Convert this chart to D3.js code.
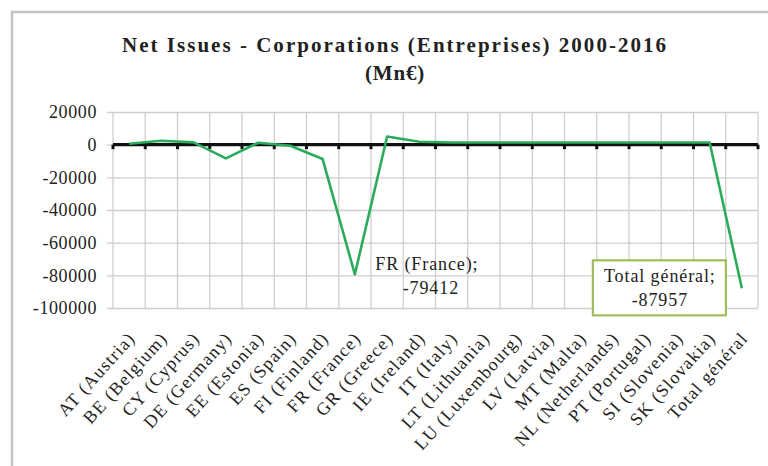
<!DOCTYPE html>
<html>
<head>
<meta charset="utf-8">
<script src="https://cdn.jsdelivr.net/npm/d3@7"></script>
<style>
  html, body { margin: 0; padding: 0; background: #fff; }
  svg { display: block; }
  text { font-family: "Liberation Serif", "Times New Roman", serif; fill: #222; }
</style>
</head>
<body>
<script>
const categories = ["AT (Austria)", "BE (Belgium)", "CY (Cyprus)", "DE (Germany)", "EE (Estonia)",
  "ES (Spain)", "FI (Finland)", "FR (France)", "GR (Greece)", "IE (Ireland)", "IT (Italy)",
  "LT (Lithuania)", "LU (Luxembourg)", "LV (Latvia)", "MT (Malta)", "NL (Netherlands)",
  "PT (Portugal)", "SI (Slovenia)", "SK (Slovakia)", "Total général"];
const netIssues = [600, 2400, 1400, -8400, 1200, -700, -8800, -79412, 5000, 1800,
  1300, 1300, 1300, 1300, 1300, 1300, 1300, 1300, 1300, -87957];
const yTicks = [20000, 0, -20000, -40000, -60000, -80000, -100000];
const titleLines = ["Net Issues - Corporations  (Entreprises) 2000-2016", "(Mn€)"];
const labelled = ["FR (France)", "Total général"];

const W = 768, H = 466;
const svg = d3.select("body").append("svg").attr("width", W).attr("height", H);

// chart frame
svg.append("path").attr("d", "M12,466 L12,12 L768,12")
  .attr("fill", "none").attr("stroke", "#c4c4c4").attr("stroke-width", 2.5);

const plot = { left: 113, right: 758, top: 112, bottom: 308 };
const x = d3.scaleBand().domain(categories).range([plot.left, plot.right]).padding(0);
const y = d3.scaleLinear().domain([-100000, 20000]).range([plot.bottom, plot.top]);
const fmt = d => String(d);

// horizontal gridlines + y labels
const yAxis = svg.append("g").attr("transform", `translate(${plot.left - 6},0)`)
  .call(d3.axisLeft(y).tickValues(yTicks).tickSize(-(plot.right - plot.left + 6)).tickPadding(10).tickFormat(fmt));
yAxis.select(".domain").remove();
yAxis.selectAll(".tick line").attr("stroke", "#cfcfcf").attr("stroke-width", 1.3);
yAxis.selectAll(".tick text").attr("font-size", 18).attr("letter-spacing", 0.6)
  .attr("font-family", "Liberation Serif").attr("fill", "#222").attr("dy", "0.33em");

// vertical gridlines at category boundaries
const bounds = categories.map(c => x(c)).concat([x.range()[1]]);
svg.append("g").selectAll("line").data(bounds).join("line")
  .attr("x1", d => d).attr("x2", d => d)
  .attr("y1", plot.top).attr("y2", plot.bottom)
  .attr("stroke", "#cfcfcf").attr("stroke-width", 1.3);

// category axis line at zero with boundary tick marks
const y0 = y(0);
svg.append("line").attr("x1", plot.left).attr("x2", plot.right)
  .attr("y1", y0).attr("y2", y0).attr("stroke", "#111").attr("stroke-width", 3.2);
svg.append("g").selectAll("line").data(bounds).join("line")
  .attr("x1", d => d).attr("x2", d => d)
  .attr("y1", y0).attr("y2", y0 + 4.5)
  .attr("stroke", "#111").attr("stroke-width", 3);

// category labels (low position)
const xAxis = svg.append("g").attr("transform", `translate(0,${plot.bottom})`)
  .call(d3.axisBottom(x).tickSize(0).tickPadding(0));
xAxis.select(".domain").remove();
xAxis.selectAll(".tick text")
  .attr("font-size", 18).attr("letter-spacing", 1.2).attr("font-family", "Liberation Serif").attr("fill", "#222")
  .attr("text-anchor", "end").attr("dy", null).attr("y", 0)
  .attr("transform", "translate(7,31) rotate(-48)");

// data line
const pts = categories.map((c, i) => ({ cat: c, v: netIssues[i] }));
const line = d3.line().x(d => x(d.cat) + x.bandwidth() / 2).y(d => y(d.v));
svg.append("path").datum(pts).attr("d", line)
  .attr("fill", "none").attr("stroke", "#2bab5c").attr("stroke-width", 2.6)
  .attr("stroke-linejoin", "round");

// data labels
const fr = pts.find(p => p.cat === labelled[0]);
const frx = x(fr.cat) + x.bandwidth() / 2, fry = y(fr.v);
const frG = svg.append("g").attr("font-size", 18).attr("letter-spacing", 0.9).attr("text-anchor", "middle");
frG.append("text").attr("x", frx + 72).attr("y", fry - 4).text(fr.cat + ";");
frG.append("text").attr("x", frx + 76).attr("y", fry + 20).text(fmt(fr.v));

const tot = pts.find(p => p.cat === labelled[1]);
const tx = x(tot.cat) + x.bandwidth() / 2, ty = y(tot.v);
const tG = svg.append("g");
tG.append("rect").attr("x", tx - 149).attr("y", ty - 28).attr("width", 133).attr("height", 55)
  .attr("fill", "#fff").attr("stroke", "#9fbd5a").attr("stroke-width", 2.2);
const tT = tG.append("g").attr("font-size", 18).attr("letter-spacing", 0.9).attr("text-anchor", "middle");
tT.append("text").attr("x", tx - 82).attr("y", ty - 6).text(tot.cat + ";");
tT.append("text").attr("x", tx - 82).attr("y", ty + 18).text(fmt(tot.v));

// title
const title = svg.append("g").attr("font-weight", "bold").attr("font-size", 21).attr("text-anchor", "middle");
const t1 = title.append("text").attr("x", 395).attr("y", 52).text(titleLines[0]);
title.append("text").attr("x", 395).attr("y", 80).attr("letter-spacing", 0.8).text(titleLines[1]);
const natural = t1.node().getComputedTextLength();
const target = 546;
t1.attr("letter-spacing", Math.max(0, (target - natural) / (titleLines[0].length - 1)));
</script>
</body>
</html>
